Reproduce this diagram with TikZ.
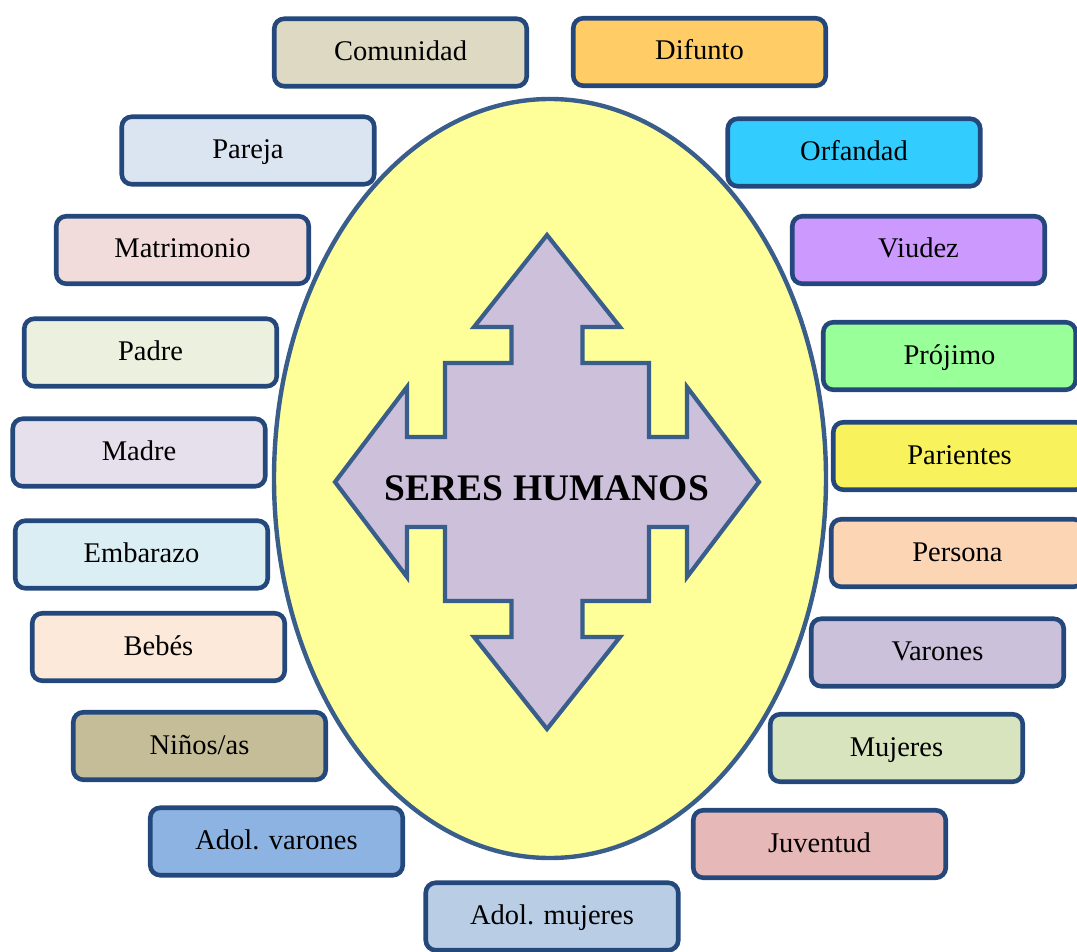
\documentclass[tikz,border=0pt]{standalone}
\usepackage{fontspec}
\setmainfont{Liberation Serif}

% outlines
\definecolor{boxline}{RGB}{36,72,124}
\definecolor{ovalline}{RGB}{58,94,140}
% centre shapes
\definecolor{ovalfill}{HTML}{FFFF99}
\definecolor{crossfill}{HTML}{CCC0DA}
% label fills
\definecolor{cComunidad}{HTML}{DDD9C3}
\definecolor{cDifunto}{HTML}{FFCC66}
\definecolor{cPareja}{HTML}{DBE5F1}
\definecolor{cOrfandad}{HTML}{33CCFF}
\definecolor{cMatrimonio}{HTML}{F2DCDB}
\definecolor{cViudez}{HTML}{CC99FF}
\definecolor{cPadre}{HTML}{EBF1DE}
\definecolor{cProjimo}{HTML}{99FF99}
\definecolor{cMadre}{HTML}{E5E0EC}
\definecolor{cParientes}{HTML}{F8F35C}
\definecolor{cEmbarazo}{HTML}{DBEEF4}
\definecolor{cPersona}{HTML}{FCD5B5}
\definecolor{cBebes}{HTML}{FDE9D9}
\definecolor{cVarones}{HTML}{CCC1DA}
\definecolor{cNinos}{HTML}{C4BD97}
\definecolor{cMujeres}{HTML}{D7E4BD}
\definecolor{cAdolV}{HTML}{8DB3E2}
\definecolor{cJuventud}{HTML}{E6B9B8}
\definecolor{cAdolM}{HTML}{B9CDE5}

\begin{document}
\begin{tikzpicture}[x=1pt,y=-1pt,
  tag/.style={draw=boxline, line width=4.6pt, rounded corners=10pt,
    minimum width=252.5pt, minimum height=67.5pt, inner sep=0pt,
    text height=20pt, text depth=4pt,
    font=\fontsize{28.5}{34}\selectfont},
  oval/.style={draw=ovalline, fill=ovalfill, line width=4.4pt},
  cross/.style={draw=ovalline, fill=crossfill, line width=4.2pt, line join=miter},
  title/.style={font=\fontsize{37.5}{44}\selectfont\bfseries, inner sep=0pt}]

\useasboundingbox (0,0) rectangle (1077,952);
\clip (0,0) rectangle (1077,952);

% central oval
\draw[oval] (550,478.5) ellipse [x radius=276, y radius=379.5];

% four-way arrow
\draw[cross, shift={(547,482)}]
  (0,-247) -- (73,-155) -- (35.5,-155) -- (35.5,-119) -- (102,-119)
  -- (102,-45) -- (140,-45) -- (140,-95) -- (212,0) -- (140,95)
  -- (140,45) -- (102,45) -- (102,119) -- (35.5,119) -- (35.5,155)
  -- (73,155) -- (0,247) -- (-73,155) -- (-35.5,155) -- (-35.5,119)
  -- (-102,119) -- (-102,45) -- (-140,45) -- (-140,95) -- (-212,0)
  -- (-140,-95) -- (-140,-45) -- (-102,-45) -- (-102,-119)
  -- (-35.5,-119) -- (-35.5,-155) -- (-73,-155) -- cycle;
\node[title] (core) at (547,488) {SERES HUMANOS};

% labels around the oval
\node[tag, fill=cComunidad]  (comunidad)  at (400.5,52.5) {Comunidad};
\node[tag, fill=cDifunto]    (difunto)    at (699.5,52)   {Difunto};
\node[tag, fill=cPareja]     (pareja)     at (248,150.5)  {Pareja};
\node[tag, fill=cOrfandad]   (orfandad)   at (854,152.5)  {Orfandad};
\node[tag, fill=cMatrimonio] (matrimonio) at (182.5,250)  {Matrimonio};
\node[tag, fill=cViudez]     (viudez)     at (918.5,250)  {Viudez};
\node[tag, fill=cPadre]      (padre)      at (150.5,352.5){Padre};
\node[tag, fill=cProjimo]    (projimo)    at (949.5,356)  {Prójimo};
\node[tag, fill=cMadre]      (madre)      at (139,452.5)  {Madre};
\node[tag, fill=cParientes]  (parientes)  at (959.5,456)  {Parientes};
\node[tag, fill=cEmbarazo]   (embarazo)   at (141.5,554.5){Embarazo};
\node[tag, fill=cPersona]    (persona)    at (957.5,553)  {Persona};
\node[tag, fill=cBebes]      (bebes)      at (158.5,647)  {Bebés};
\node[tag, fill=cVarones]    (varones)    at (937.5,652.5){Varones};
\node[tag, fill=cNinos]      (ninos)      at (199.5,746)  {Niños/as};
\node[tag, fill=cMujeres]    (mujeres)    at (896.5,748)  {Mujeres};
\node[tag, fill=cAdolV]      (adolv)      at (276.5,841.5){Adol. varones};
\node[tag, fill=cJuventud]   (juventud)   at (819.5,844)  {Juventud};
\node[tag, fill=cAdolM]      (adolm)      at (552,916.5)  {Adol. mujeres};
\end{tikzpicture}
\end{document}
